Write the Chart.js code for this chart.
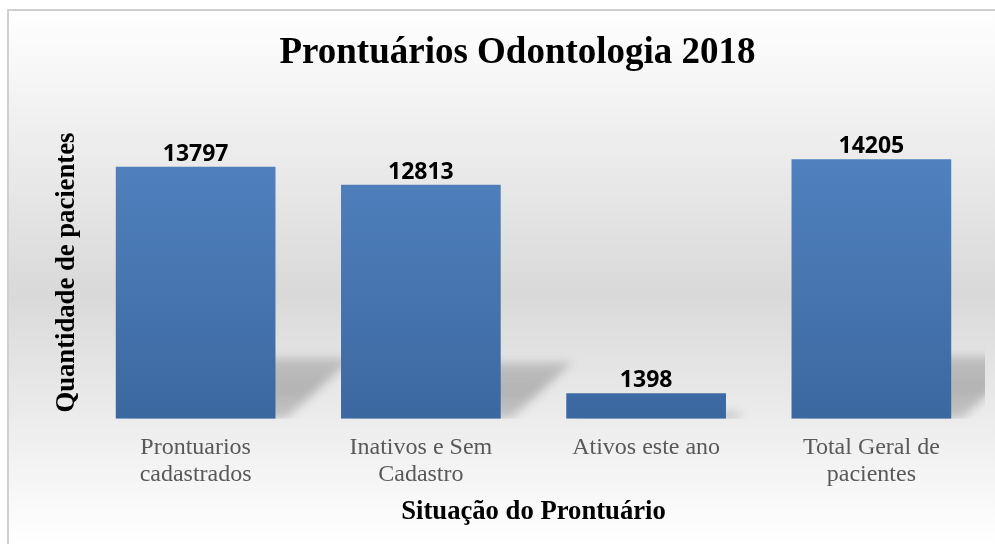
<!DOCTYPE html>
<html>
<head>
<meta charset="utf-8">
<script src="https://cdn.jsdelivr.net/npm/chart.js@4.4.1/dist/chart.umd.min.js"></script>
<style>
  html, body { margin: 0; padding: 0; background: #ffffff; }
  #wrap { width: 995px; height: 544px; position: relative; }
</style>
</head>
<body>
<div id="wrap"><canvas id="c" width="995" height="544"></canvas></div>
<script>
const chartTitle = 'Prontuários Odontologia 2018';
const xAxisTitle = 'Situação do Prontuário';
const yAxisTitle = 'Quantidade de pacientes';
const categories = [
  ['Prontuarios', 'cadastrados'],
  ['Inativos e Sem', 'Cadastro'],
  ['Ativos este ano'],
  ['Total Geral de', 'pacientes']
];
const patientCounts = [13797, 12813, 1398, 14205];
const yMax = 16000;

const serif = '"Liberation Serif", "Times New Roman", serif';

const backgroundPlugin = {
  id: 'bgFrame',
  beforeDraw(chart) {
    const ctx = chart.ctx;
    const w = chart.width, h = chart.height;
    ctx.save();
    ctx.fillStyle = '#ffffff';
    ctx.fillRect(0, 0, w, h);
    const g = ctx.createLinearGradient(0, 10, 0, h);
    g.addColorStop(0, '#ffffff');
    g.addColorStop(0.53, '#d9d9d9');
    g.addColorStop(1, '#ffffff');
    ctx.fillStyle = g;
    ctx.fillRect(8, 10, w, h);
    ctx.strokeStyle = '#d0d0d0';
    ctx.lineWidth = 2;
    ctx.beginPath();
    ctx.moveTo(8, h + 2);
    ctx.lineTo(8, 10);
    ctx.lineTo(w + 2, 10);
    ctx.stroke();
    ctx.restore();
  },
  beforeDatasetsDraw(chart) {
    const ctx = chart.ctx;
    const area = chart.chartArea;
    const meta = chart.getDatasetMeta(0);
    ctx.save();
    ctx.beginPath();
    ctx.rect(area.left, area.top, area.right - area.left + 1, area.bottom - area.top);
    ctx.clip();
    ctx.filter = 'blur(5px)';
    meta.data.forEach((bar) => {
      const left = bar.x - bar.width / 2;
      const right = bar.x + bar.width / 2;
      const hgt = bar.base - bar.y;
      const dy = hgt * 0.24;
      const dx = dy * 1.1;
      const sg = ctx.createLinearGradient(0, bar.base - dy, 0, bar.base);
      sg.addColorStop(0, 'rgba(60,60,60,0.22)');
      sg.addColorStop(0.5, 'rgba(60,60,60,0.30)');
      sg.addColorStop(1, 'rgba(60,60,60,0.22)');
      ctx.fillStyle = sg;
      ctx.beginPath();
      ctx.moveTo(left + 10, bar.base);
      ctx.lineTo(right + 10, bar.base);
      ctx.lineTo(right + 10 + dx, bar.base - dy);
      ctx.lineTo(left + 10 + dx, bar.base - dy);
      ctx.closePath();
      ctx.fill();
    });
    ctx.restore();
    meta.data.forEach((bar) => {
      const g = ctx.createLinearGradient(0, bar.y, 0, bar.base);
      g.addColorStop(0, '#5081be');
      g.addColorStop(1, '#3c68a0');
      bar.options.backgroundColor = g;
    });
  },
  afterDatasetsDraw(chart) {
    const ctx = chart.ctx;
    const meta = chart.getDatasetMeta(0);
    const vals = chart.data.datasets[0].data;
    ctx.save();
    ctx.font = '700 23px "Open Sans", "Liberation Sans", sans-serif';
    ctx.fillStyle = '#000000';
    ctx.textAlign = 'center';
    ctx.textBaseline = 'alphabetic';
    meta.data.forEach((bar, i) => {
      ctx.fillText(String(vals[i]), bar.x, bar.y - 6);
    });
    ctx.restore();
  }
};

new Chart(document.getElementById('c'), {
  type: 'bar',
  data: {
    labels: categories,
    datasets: [{
      data: patientCounts,
      backgroundColor: '#4a7ab4',
      borderWidth: 0,
      barPercentage: 0.709,
      categoryPercentage: 1.0
    }]
  },
  options: {
    responsive: false,
    animation: false,
    events: [],
    layout: { padding: { left: 51, right: 11, top: 0, bottom: 16 } },
    plugins: {
      legend: { display: false },
      tooltip: { enabled: false },
      title: {
        display: true,
        text: chartTitle,
        color: '#000000',
        font: { family: serif, size: 37, weight: 'bold', lineHeight: 1.2 },
        padding: { top: 31, bottom: 51 }
      }
    },
    scales: {
      x: {
        grid: { display: false, drawTicks: false },
        border: { display: false },
        ticks: {
          color: '#595959',
          font: { family: serif, size: 24, lineHeight: 1.15 },
          padding: 15,
          maxRotation: 0,
          autoSkip: false
        },
        title: {
          display: true,
          text: xAxisTitle,
          color: '#000000',
          font: { family: serif, size: 26.67, weight: 'bold', lineHeight: 1.2 },
          padding: { top: -8, bottom: 0 }
        }
      },
      y: {
        min: 0,
        max: yMax,
        grid: { display: false, drawTicks: false },
        border: { display: false },
        ticks: { display: false },
        title: {
          display: true,
          text: yAxisTitle,
          color: '#000000',
          font: { family: serif, size: 26.67, weight: 'bold', lineHeight: 1.2 },
          padding: { top: 0, bottom: 0 }
        }
      }
    }
  },
  plugins: [backgroundPlugin]
});
</script>
</body>
</html>
